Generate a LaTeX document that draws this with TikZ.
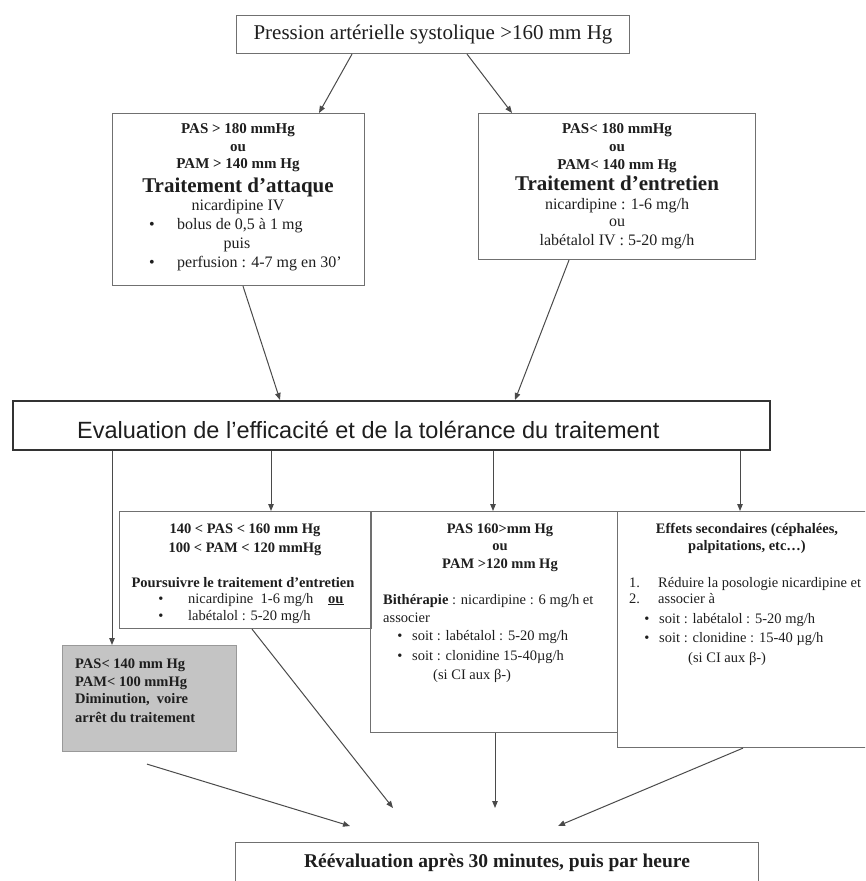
\documentclass[tikz,border=0pt]{standalone}
\usepackage{fontspec}
\setmainfont{Liberation Serif}
\newfontfamily\arialf{Liberation Sans}
\usetikzlibrary{arrows.meta}
\definecolor{ln}{HTML}{4A4A4A}
\definecolor{bx}{HTML}{707070}
\definecolor{txt}{HTML}{1E1E1E}
\definecolor{greyfill}{HTML}{C4C4C4}
\newcommand\fsz[1]{\fontsize{#1}{#1}\selectfont}
\begin{document}
\begin{tikzpicture}[x=1pt,y=-1pt,
  box/.style={draw=bx, line width=1.1pt, inner sep=0pt, anchor=north west},
  evalbox/.style={draw=black!80, line width=2pt, inner sep=0pt, anchor=north west},
  greybox/.style={draw=black!40, fill=greyfill, line width=1.1pt, inner sep=0pt, anchor=north west},
  arr/.style={draw=ln, line width=1pt, -{Triangle[length=7pt,width=5.5pt]}},
  lbl/.style={inner sep=0pt, text=txt, anchor=base},
  lblw/.style={inner sep=0pt, text=txt, anchor=base west},
  up/.style={font=\fsz{16}},
  upb/.style={font=\fsz{15}\bfseries},
  big/.style={font=\fsz{21}\bfseries},
  lo/.style={font=\fsz{14.5}},
  lob/.style={font=\fsz{14.5}\bfseries}
]
\useasboundingbox (0,0) rectangle (865,881);
\clip (0,0) rectangle (865,881);

% ---------- boxes ----------
\node[box, minimum width=393, minimum height=38] (top) at (236,15) {};
\node[box, minimum width=252, minimum height=172] (lbox) at (112,113) {};
\node[box, minimum width=277, minimum height=146] (rbox) at (478,113) {};
\node[evalbox, minimum width=757, minimum height=49] (eval) at (12,400) {};
\node[box, minimum width=252, minimum height=117] (boxa) at (119,511) {};
\node[box, minimum width=247, minimum height=221] (boxb) at (370,511) {};
\node[box, minimum width=262, minimum height=236] (boxc) at (617,511) {};
\node[greybox, minimum width=174, minimum height=106] (grey) at (62,645) {};
\node[box, minimum width=523, minimum height=70] (bot) at (235,842) {};

% ---------- texts ----------
\node[lbl, font=\fsz{21}] (t0) at (433,39) {Pression artérielle systolique >160 mm Hg};

\node[lbl, upb] (l1) at (238,133) {PAS > 180 mmHg};
\node[lbl, upb] (l2) at (238,151) {ou};
\node[lbl, upb] (l3) at (238,168) {PAM > 140 mm Hg};
\node[lbl, big] (l4) at (238,192) {Traitement d’attaque};
\node[lbl, up] (l5) at (238,210) {nicardipine IV};
\node[lbl, up] (l6b) at (152,229) {\textbullet};
\node[lblw, up] (l6) at (177,229) {bolus de 0,5 à 1 mg};
\node[lbl, up] (l7) at (237,248) {puis};
\node[lbl, up] (l8b) at (152,267) {\textbullet};
\node[lblw, up] (l8) at (177,267) {perfusion : 4-7 mg en 30’};

\node[lbl, upb] (r1) at (617,133) {PAS< 180 mmHg};
\node[lbl, upb] (r2) at (617,151) {ou};
\node[lbl, upb] (r3) at (617,169) {PAM< 140 mm Hg};
\node[lbl, big] (r4) at (617,190) {Traitement d’entretien};
\node[lbl, up] (r5) at (617,209) {nicardipine : 1-6 mg/h};
\node[lbl, up] (r6) at (617,226) {ou};
\node[lbl, up] (r7) at (617,245) {labétalol IV : 5-20 mg/h};

\node[lblw, font=\arialf\fsz{23.5}] (e1) at (77,438) {Evaluation de l’efficacité et de la tolérance du traitement};

\node[lbl, lob] (a1) at (245,533) {140 < PAS < 160 mm Hg};
\node[lbl, lob] (a2) at (245,552) {100 < PAM < 120 mmHg};
\node[lbl, lob] (a3) at (243,587) {Poursuivre le traitement d’entretien};
\node[lbl, lo] (a4b) at (161,603) {\textbullet};
\node[lblw, lo] (a4) at (188,603) {nicardipine\ \ 1-6 mg/h};
\node[lblw, lob] (a4o) at (328,603) {\underline{ou}};
\node[lbl, lo] (a5b) at (161,620) {\textbullet};
\node[lblw, lo] (a5) at (188,620) {labétalol : 5-20 mg/h};

\node[lbl, lob] (b1) at (500,533) {PAS 160>mm Hg};
\node[lbl, lob] (b2) at (500,550) {ou};
\node[lbl, lob] (b3) at (500,568) {PAM >120 mm Hg};
\node[lblw, lo] (b4) at (383,604) {\textbf{Bithérapie} : nicardipine : 6 mg/h et};
\node[lblw, lo] (b5) at (383,622) {associer};
\node[lbl, lo] (b6b) at (400,640) {\textbullet};
\node[lblw, lo] (b6) at (412,640) {soit : labétalol : 5-20 mg/h};
\node[lbl, lo] (b7b) at (400,660) {\textbullet};
\node[lblw, lo] (b7) at (412,660) {soit : clonidine 15-40µg/h};
\node[lblw, lo] (b8) at (433,679) {(si CI aux β-)};

\node[lbl, lob] (c1) at (747,533) {Effets secondaires (céphalées,};
\node[lbl, lob] (c2) at (747,550) {palpitations, etc…)};
\node[lblw, lo] (c3n) at (629,587) {1.};
\node[lblw, lo] (c3) at (658,587) {Réduire la posologie nicardipine et};
\node[lblw, lo] (c4n) at (629,603) {2.};
\node[lblw, lo] (c4) at (658,603) {associer à};
\node[lbl, lo] (c5b) at (647,623) {\textbullet};
\node[lblw, lo] (c5) at (659,623) {soit : labétalol : 5-20 mg/h};
\node[lbl, lo] (c6b) at (647,642) {\textbullet};
\node[lblw, lo] (c6) at (659,642) {soit : clonidine : 15-40 µg/h};
\node[lblw, lo] (c7) at (688,662) {(si CI aux β-)};

\node[lblw, lob] (g1) at (75,668) {PAS< 140 mm Hg};
\node[lblw, lob] (g2) at (75,686) {PAM< 100 mmHg};
\node[lblw, lob] (g3) at (75,703) {Diminution,\ \ voire};
\node[lblw, lob] (g4) at (75,722) {arrêt du traitement};

\node[lbl, font=\fsz{19.5}\bfseries] (f1) at (497,867) {Réévaluation après 30 minutes, puis par heure};

% ---------- connectors ----------
\draw[arr] ([xshift=116pt]top.south west) -- ([xshift=207pt]lbox.north west);
\draw[arr] ([xshift=231pt]top.south west) -- ([xshift=34pt]rbox.north west);
\draw[arr] ([xshift=131pt]lbox.south west) -- ([xshift=268pt]eval.north west);
\draw[arr] ([xshift=91pt]rbox.south west) -- ([xshift=503pt]eval.north west);
\draw[arr] ([xshift=100pt]eval.south west) -- ([xshift=50pt]grey.north west);
\draw[arr] ([xshift=259pt]eval.south west) -- ([xshift=152pt]boxa.north west);
\draw[arr] ([xshift=481pt]eval.south west) -- ([xshift=123pt]boxb.north west);
\draw[arr] ([xshift=728pt]eval.south west) -- ([xshift=123pt]boxc.north west);
\coordinate (gstart) at ([xshift=85pt,yshift=-12pt]grey.south west);
\coordinate (in1) at ([xshift=115pt,yshift=16pt]bot.north west);
\coordinate (in2) at ([xshift=158pt,yshift=34pt]bot.north west);
\coordinate (in3) at ([xshift=260pt,yshift=34pt]bot.north west);
\coordinate (in4) at ([xshift=323pt,yshift=16pt]bot.north west);
\draw[arr] (gstart) -- (in1);
\draw[arr] ([xshift=133pt]boxa.south west) -- (in2);
\draw[arr] ([xshift=125pt]boxb.south west) -- (in3);
\draw[arr] ([xshift=126pt]boxc.south west) -- (in4);
\end{tikzpicture}
\end{document}
